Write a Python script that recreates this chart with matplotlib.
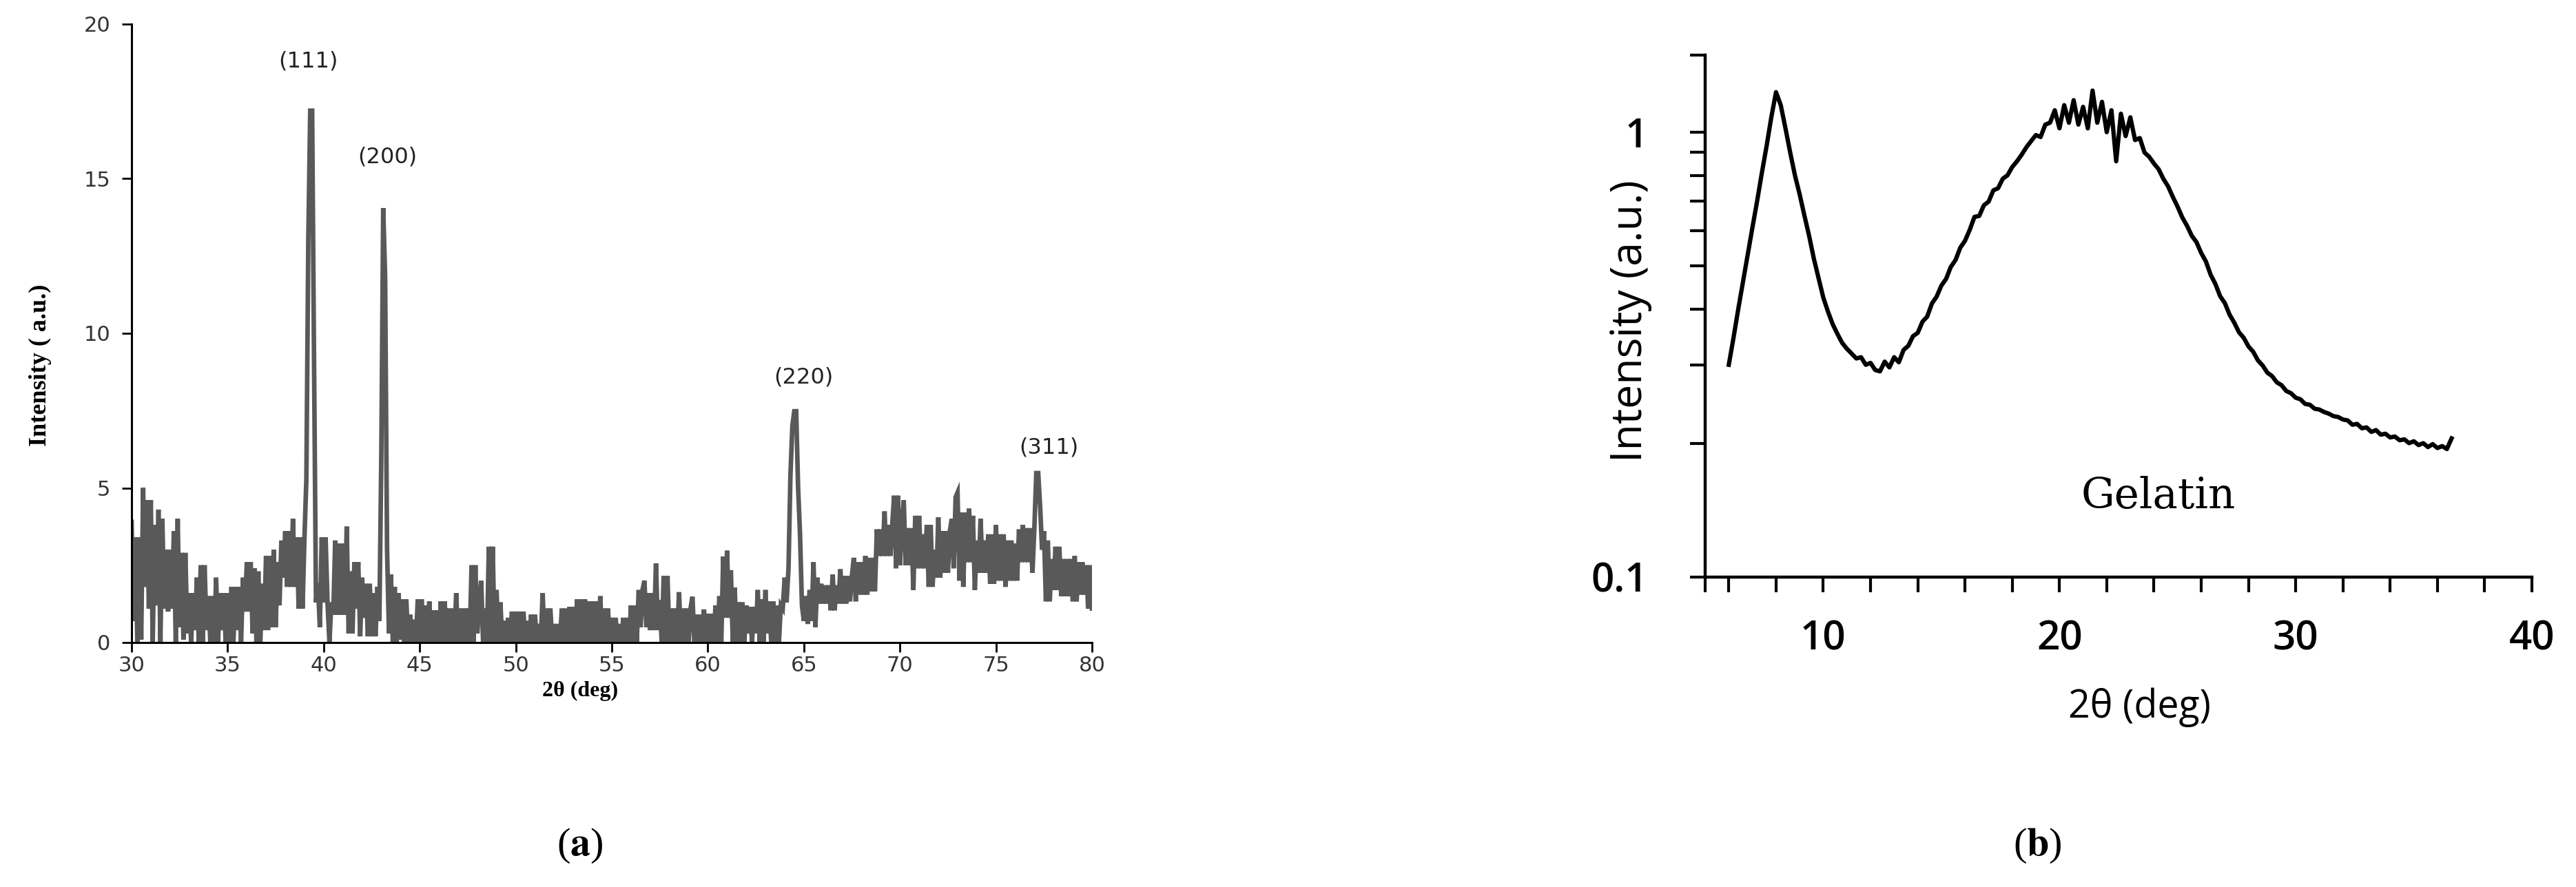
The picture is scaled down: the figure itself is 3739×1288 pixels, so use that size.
import numpy as np
import matplotlib
matplotlib.use("Agg")
import matplotlib.pyplot as plt
from matplotlib.ticker import NullFormatter, FixedLocator

plt.rcParams['mathtext.fontset'] = 'stix'

# ---- panel (a): XRD pattern, 2theta 30..80 in 0.1 deg steps (one row = 1 deg) ----
intensity_a = [
    3.9, 0.7, 3.4, 0.0, 3.4, 0.1, 5.0, 1.8, 4.6, 1.1,      # 30
    4.6, 0.0, 3.8, 1.2, 4.3, 0.0, 4.0, 1.1, 3.0, 1.0,      # 31
    3.0, 1.1, 3.6, 0.0, 4.0, 0.5, 2.9, 0.1, 2.9, 0.3,      # 32
    1.6, 0.0, 1.6, 0.4, 2.1, 0.0, 2.5, 0.0, 2.5, 0.4,      # 33
    1.5, 0.0, 1.5, 0.0, 2.1, 0.0, 1.6, 0.4, 1.6, 0.0,      # 34
    1.6, 0.0, 1.8, 0.0, 1.8, 0.4, 1.8, 0.0, 2.1, 1.0,      # 35
    2.6, 1.0, 2.6, 0.3, 2.4, 0.0, 2.3, 0.0, 1.9, 0.4,      # 36
    2.8, 0.4, 2.8, 0.5, 3.0, 0.5, 2.6, 1.2, 3.3, 2.1,      # 37
    3.6, 1.8, 3.6, 1.8, 4.0, 1.8, 3.4, 1.1, 3.4, 1.1,      # 38
    3.4, 5.3, 13.0, 17.2, 17.2, 9.0, 1.3, 1.9, 0.5, 3.4,   # 39
    1.3, 3.4, 1.3, 0.0, 1.3, 0.9, 3.3, 0.9, 3.2, 0.9,      # 40
    3.2, 0.9, 3.75, 0.3, 2.3, 0.3, 2.6, 1.1, 2.6, 0.2,     # 41
    2.1, 0.8, 1.9, 0.2, 1.9, 0.2, 1.6, 0.2, 1.8, 0.7,      # 42
    6.0, 14.05, 11.8, 3.0, 0.3, 2.2, 0.0, 1.8, 0.0, 1.6,   # 43
    0.1, 1.4, 0.0, 1.4, 0.0, 0.9, 0.0, 0.74, 0.0, 1.4,     # 44
    0.0, 1.4, 0.0, 1.2, 0.0, 1.33, 0.0, 1.04, 0.0, 1.04,   # 45
    0.0, 1.33, 0.0, 1.33, 0.0, 1.1, 0.0, 1.1, 0.0, 1.6,    # 46
    0.0, 1.1, 0.0, 1.1, 0.0, 1.1, 0.0, 2.5, 0.0, 2.5,      # 47
    0.3, 1.3, 2.0, 0.0, 1.1, 0.0, 3.1, 0.0, 3.1, 0.0,      # 48
    1.7, 0.0, 1.3, 0.0, 0.7, 0.0, 0.8, 0.0, 1.0, 0.0,      # 49
    1.0, 0.0, 1.0, 0.0, 1.0, 0.0, 0.7, 0.0, 0.9, 0.0,      # 50
    0.9, 0.0, 0.6, 0.0, 1.6, 0.0, 1.1, 0.0, 1.1, 0.0,      # 51
    0.6, 0.0, 0.6, 0.0, 1.1, 0.0, 1.1, 0.0, 1.15, 0.0,     # 52
    1.15, 0.0, 1.4, 0.0, 1.4, 0.0, 1.4, 0.0, 1.33, 0.0,    # 53
    1.33, 0.0, 1.33, 0.0, 1.5, 0.0, 1.1, 0.0, 1.1, 0.0,    # 54
    0.8, 0.0, 0.8, 0.0, 0.6, 0.0, 0.8, 0.0, 0.8, 0.0,      # 55
    1.2, 0.0, 1.2, 0.0, 1.7, 0.5, 1.7, 2.0, 0.5, 1.6,      # 56
    0.4, 1.6, 0.4, 2.56, 0.4, 1.37, 0.0, 2.15, 0.0, 2.15,  # 57
    0.0, 1.1, 0.0, 1.1, 0.0, 1.63, 0.0, 1.1, 0.0, 1.1,     # 58
    0.0, 1.1, 1.48, 0.0, 0.9, 0.0, 0.9, 0.0, 1.07, 0.0,    # 59
    0.93, 0.0, 0.93, 0.0, 1.2, 0.0, 1.5, 0.0, 2.78, 0.8,   # 60
    2.97, 0.8, 2.34, 0.0, 1.78, 0.0, 1.3, 0.0, 1.3, 0.0,   # 61
    1.2, 0.3, 1.15, 0.0, 1.15, 0.3, 1.7, 0.0, 1.4, 0.0,    # 62
    1.7, 0.3, 1.33, 0.0, 1.33, 0.0, 1.2, 0.0, 1.2, 1.1,    # 63
    2.1, 1.3, 2.4, 5.4, 7.0, 7.48, 7.48, 5.0, 3.5, 1.2,    # 64
    0.7, 1.5, 0.6, 1.7, 0.7, 2.6, 0.5, 2.1, 1.26, 1.9,     # 65
    1.26, 1.85, 1.26, 1.85, 1.04, 2.2, 1.04, 1.85, 1.26, 2.37,  # 66
    1.26, 2.15, 1.26, 2.15, 1.33, 2.15, 2.74, 1.33, 2.6, 1.55,  # 67
    2.6, 1.55, 2.8, 1.55, 2.74, 1.66, 2.74, 1.66, 3.66, 2.8,    # 68
    3.66, 2.8, 4.24, 2.8, 3.8, 2.8, 3.8, 4.75, 2.4, 4.75,       # 69
    2.5, 3.8, 4.6, 2.5, 3.7, 2.5, 3.7, 1.7, 4.1, 2.4,           # 70
    4.1, 2.4, 3.5, 2.4, 3.8, 1.8, 3.8, 1.8, 3.0, 2.1,           # 71
    4.05, 2.1, 3.6, 2.26, 3.6, 2.26, 3.6, 4.0, 2.4, 4.7,        # 72
    4.85, 2.0, 4.2, 1.8, 4.2, 2.6, 4.33, 2.6, 4.1, 1.7,         # 73
    3.3, 2.26, 4.0, 2.26, 3.3, 2.26, 3.5, 1.9, 3.5, 1.9,        # 74
    3.8, 2.0, 3.5, 2.0, 3.5, 1.8, 3.3, 2.0, 3.3, 2.0,           # 75
    3.2, 2.0, 3.66, 2.6, 3.8, 2.6, 3.7, 2.6, 3.7, 2.26,         # 76
    3.7, 5.48, 5.48, 4.4, 3.0, 3.6, 1.33, 3.3, 1.33, 2.7,       # 77
    1.7, 3.1, 1.7, 3.1, 1.5, 2.7, 1.5, 2.7, 1.5, 2.7,           # 78
    1.33, 2.8, 1.33, 2.6, 1.55, 2.6, 1.55, 2.5, 1.1, 2.5,       # 79
    1.1,                                                        # 80
]
two_theta_a = np.round(30.0 + 0.1 * np.arange(len(intensity_a)), 1)

peak_labels = ["(111)", "(200)", "(220)", "(311)"]
peak_label_x = [39.18, 43.31, 64.97, 77.74]
peak_label_y = [18.8, 15.7, 8.57, 6.3]

ticks_a_x = [30, 35, 40, 45, 50, 55, 60, 65, 70, 75, 80]
ticks_a_y = [0, 5, 10, 15, 20]

# ---- panel (b): gelatin, 2theta 6.0..36.6 in 0.2 deg steps (one row = 2 deg) ----
intensity_b = [
    0.30, 0.345, 0.40, 0.46, 0.53, 0.61, 0.70, 0.81, 0.93, 1.08,        # 6
    1.23, 1.15, 1.02, 0.90, 0.80, 0.725, 0.65, 0.585, 0.52, 0.47,       # 8
    0.425, 0.395, 0.37, 0.352, 0.336, 0.326, 0.318, 0.31, 0.312, 0.30,  # 10
    0.303, 0.292, 0.29, 0.305, 0.296, 0.312, 0.304, 0.324, 0.331, 0.348,  # 12
    0.354, 0.375, 0.385, 0.412, 0.427, 0.452, 0.468, 0.498, 0.516, 0.55,  # 14
    0.57, 0.603, 0.645, 0.648, 0.685, 0.698, 0.74, 0.748, 0.786, 0.80,  # 16
    0.835, 0.86, 0.89, 0.925, 0.955, 0.985, 0.975, 1.04, 1.05, 1.12,    # 18
    1.02, 1.15, 1.05, 1.18, 1.04, 1.14, 1.02, 1.24, 1.05, 1.17,         # 20
    1.0, 1.12, 0.86, 1.1, 0.98, 1.08, 0.96, 0.97, 0.9, 0.88,            # 22
    0.85, 0.825, 0.785, 0.755, 0.715, 0.68, 0.643, 0.616, 0.585, 0.566, # 24
    0.535, 0.512, 0.478, 0.456, 0.428, 0.413, 0.389, 0.373, 0.355, 0.345, # 26
    0.33, 0.321, 0.307, 0.299, 0.288, 0.283, 0.274, 0.27, 0.262, 0.259, # 28
    0.253, 0.251, 0.245, 0.244, 0.239, 0.238, 0.235, 0.233, 0.23, 0.229, # 30
    0.226, 0.225, 0.22, 0.221, 0.216, 0.217, 0.212, 0.214, 0.209, 0.21, # 32
    0.206, 0.207, 0.203, 0.204, 0.2, 0.202, 0.198, 0.2, 0.196, 0.199,   # 34
    0.195, 0.197, 0.194, 0.205,                                         # 36
]
two_theta_b = np.round(6.0 + 0.2 * np.arange(len(intensity_b)), 1)

ticks_b_x = [10, 20, 30, 40]
minor_b_x = [5, 6, 8, 12, 14, 16, 18, 22, 24, 26, 28, 32, 34, 36, 38]
ticks_b_y = [0.1, 1]
minor_b_y = [0.2, 0.3, 0.4, 0.5, 0.6, 0.7, 0.8, 0.9, 1.49]

W, H = 3739, 1288
fig = plt.figure(figsize=(W / 100, H / 100), dpi=100)

# ---------------- (a) ----------------
ax = fig.add_axes([191 / W, 1 - 933 / H, (1585 - 191) / W, (933 - 35) / H])
ax.plot(two_theta_a, intensity_a, color='#595959', lw=4.8, solid_joinstyle='miter')
ax.set_xlim(30, 80)
ax.set_ylim(0, 20)
ax.set_xticks(ticks_a_x)
ax.set_yticks(ticks_a_y)
for s in ['top', 'right']:
    ax.spines[s].set_visible(False)
for s in ['left', 'bottom']:
    ax.spines[s].set_linewidth(2.2)
ax.tick_params(direction='out', length=10, width=2, pad=12, labelsize=22,
               labelcolor='#333333')
ax.tick_params(axis='x', pad=4)
for lab, px, py in zip(peak_labels, peak_label_x, peak_label_y):
    ax.text(px, py, lab, ha='center', va='center', fontsize=23, color='#222222')

fig.text(58 / W, 1 - 530 / H, "Intensity ( a.u.)", rotation=90, ha='center', va='center',
         family='Liberation Serif', weight='bold', fontsize=26)
fig.text(842 / W, 1 - 1003 / H, "2θ (deg)", ha='center', va='center',
         family='Liberation Serif', weight='bold', fontsize=23)

# ---------------- (b) ----------------
bx = fig.add_axes([2475 / W, 1 - 838 / H, (3675 - 2475) / W, (838 - 80) / H])
bx.plot(two_theta_b, intensity_b, color='black', lw=4.5)
bx.set_yscale('log')
bx.set_xlim(5, 40)
bx.set_ylim(0.1, 1.49)
bx.xaxis.set_major_locator(FixedLocator(ticks_b_x))
bx.xaxis.set_minor_locator(FixedLocator(minor_b_x))
bx.yaxis.set_major_locator(FixedLocator(ticks_b_y))
bx.yaxis.set_minor_locator(FixedLocator(minor_b_y))
bx.set_yticklabels(['0.1', '1'])
bx.yaxis.set_minor_formatter(NullFormatter())
for s in ['top', 'right']:
    bx.spines[s].set_visible(False)
for s in ['left', 'bottom']:
    bx.spines[s].set_linewidth(3.2)
bx.tick_params(which='both', direction='out', length=16, width=3)
bx.tick_params(axis='x', which='major', pad=28, labelsize=42)
bx.tick_params(axis='y', which='major', pad=44, labelsize=42)
for lab in bx.get_xticklabels() + bx.get_yticklabels():
    lab.set_fontfamily('Open Sans')
    lab.set_fontweight('semibold')

bx.text(24.2, 0.152, "Gelatin", ha='center', va='center', family='DejaVu Serif', fontsize=44)
fig.text(2367 / W, 1 - 466 / H, "Intensity (a.u.)", rotation=90, ha='center', va='center',
         family='Open Sans', fontsize=45)
fig.text(3105 / W, 1 - 1027 / H, "2θ (deg)", ha='center', va='center',
         family='Open Sans', fontsize=40)

# panel letters
fig.text(842 / W, 1 - 1228 / H, r"($\mathbf{a}$)", ha='center', va='center',
         family='Liberation Serif', fontsize=42)
fig.text(2957 / W, 1 - 1228 / H, r"($\mathbf{b}$)", ha='center', va='center',
         family='Liberation Serif', fontsize=42)

fig.savefig("out.png", dpi=100, facecolor='white')
